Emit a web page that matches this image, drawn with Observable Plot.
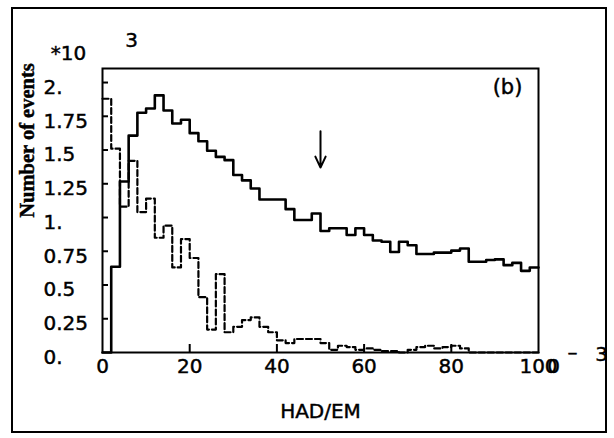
<!DOCTYPE html>
<html><head><meta charset="utf-8">
<script src="https://cdn.jsdelivr.net/npm/d3@7"></script>
<script src="https://cdn.jsdelivr.net/npm/@observablehq/plot@0.6"></script>
<style>
body{margin:0;background:#fff;}
#wrap{position:relative;width:614px;height:438px;overflow:hidden;background:#fff;}
#border{position:absolute;left:11px;top:7px;width:592px;height:422px;border:2px solid #000;}
#chart{position:absolute;left:0;top:0;}
#chart text{stroke:#000;stroke-width:0.45px;}
</style></head><body>
<div id="wrap"><div id="chart"></div><div id="border"></div></div>
<script>
// HAD/EM bin lower edges (bin width 2)
const binStart = [0,2,4,6,8,10,12,14,16,18,20,22,24,26,28,30,32,34,36,38,40,42,44,46,48,
                  50,52,54,56,58,60,62,64,66,68,70,72,74,76,78,80,82,84,86,88,90,92,94,96,98];
// Number of events (x10^3), solid histogram
const solidCounts = [0,0.635,1.267,1.607,1.776,1.808,1.905,1.793,1.697,1.724,
                     1.625,1.565,1.495,1.449,1.425,1.315,1.275,1.215,1.133,1.133,
                     1.133,1.062,0.982,0.982,1.03,0.90,0.92,0.92,0.87,0.92,
                     0.87,0.83,0.82,0.745,0.82,0.795,0.73,0.73,0.74,0.74,
                     0.755,0.77,0.672,0.672,0.685,0.69,0.647,0.664,0.605,0.63];
// dashed histogram
const dashedCounts = [1.88,1.51,1.08,1.42,1.04,1.14,0.85,0.94,0.63,0.84,
                      0.70,0.41,0.17,0.58,0.15,0.19,0.24,0.26,0.19,0.15,
                      0.09,0.07,0.10,0.10,0.10,0.07,0.02,0.05,0.04,0.02,
                      0.03,0.02,0.01,0.01,0,0.02,0.04,0.05,0.03,0.04,
                      0.05,0.03,0,0,0,0,0,0,0,0];
const xEnd = 100;
const yTickValues = [0,0.25,0.5,0.75,1,1.25,1.5,1.75,2];
const yTickLabels = ["0.","0.25","0.5","0.75","1.","1.25","1.5","1.75","2."];
const xTickValues = [0,20,40,60,80,100];
const xInnerTicks = [20,40,60,80];
const arrowData = [{x: 50, top: 1.64, bottom: 1.37}];

const solidPts = binStart.map((x,i)=>({x, y: solidCounts[i]})).concat([{x: xEnd, y: solidCounts[solidCounts.length-1]}]);
const dashedPts = binStart.map((x,i)=>({x, y: dashedCounts[i]})).concat([{x: xEnd, y: dashedCounts[dashedCounts.length-1]}]);

const mid = {textAnchor: "middle", lineAnchor: "middle"};
const chart = Plot.plot({
  width: 614, height: 438,
  marginLeft: 102, marginRight: 76, marginTop: 68, marginBottom: 86,
  x: {domain: [0, 100], label: null},
  y: {domain: [0, 2.104], label: null},
  style: {fontFamily: "DejaVu Sans, sans-serif", fontSize: "20px", color: "#000", background: "transparent", overflow: "visible"},
  marks: [
    Plot.line(dashedPts, {x: "x", y: "y", curve: "step-after", stroke: "#000", strokeWidth: 2.2, strokeDasharray: "6,3"}),
    Plot.line(solidPts, {x: "x", y: "y", curve: "step-after", stroke: "#000", strokeWidth: 2.6}),
    Plot.frame({stroke: "#000", strokeWidth: 2}),
    Plot.axisY(yTickValues.slice(1), {tickSize: 6, dx: 6, strokeWidth: 2, tickFormat: () => "", label: null}),
    Plot.axisY(yTickValues, {tickSize: 0, tickPadding: 59, textAnchor: "start", dy: 5,
      tickFormat: d => yTickLabels[yTickValues.indexOf(d)], label: null}),
    Plot.axisX(xInnerTicks, {tickSize: 8, dy: -8, strokeWidth: 2, tickFormat: () => "", label: null}),
    Plot.axisX(xTickValues, {tickSize: 0, tickPadding: 6, tickFormat: d => String(d), label: null}),
    Plot.text(["0"], {text: d => d, frameAnchor: "bottom-right", ...mid, dx: 15, dy: 14, fontSize: 20}),
    Plot.arrow(arrowData, {x: "x", y1: "top", y2: "bottom", stroke: "#000", strokeWidth: 2, headLength: 12, headAngle: 50}),
    Plot.text(["Number of events"], {text: d => d, frameAnchor: "top-left", ...mid, dx: -75, dy: 72, rotate: -90,
      fontFamily: "Liberation Serif, serif", fontWeight: "bold", fontSize: 20.5}),
    Plot.text(["*10"], {text: d => d, frameAnchor: "top-left", ...mid, dx: -34, dy: -15, fontSize: 20}),
    Plot.text(["3"], {text: d => d, frameAnchor: "top-left", ...mid, dx: 29, dy: -28, fontSize: 20}),
    Plot.text(["(b)"], {text: d => d, frameAnchor: "top-right", ...mid, dx: -31, dy: 19, fontSize: 21}),
    Plot.text(["–"], {text: d => d, frameAnchor: "bottom-right", ...mid, dx: 34, dy: 0, fontSize: 20}),
    Plot.text(["3"], {text: d => d, frameAnchor: "bottom-right", ...mid, dx: 63, dy: 2, fontSize: 20}),
    Plot.text(["HAD/EM"], {text: d => d, frameAnchor: "bottom", ...mid, dy: 59, fontSize: 20, letterSpacing: "1px"})
  ]
});
document.getElementById("chart").appendChild(chart);
</script>
</body></html>
